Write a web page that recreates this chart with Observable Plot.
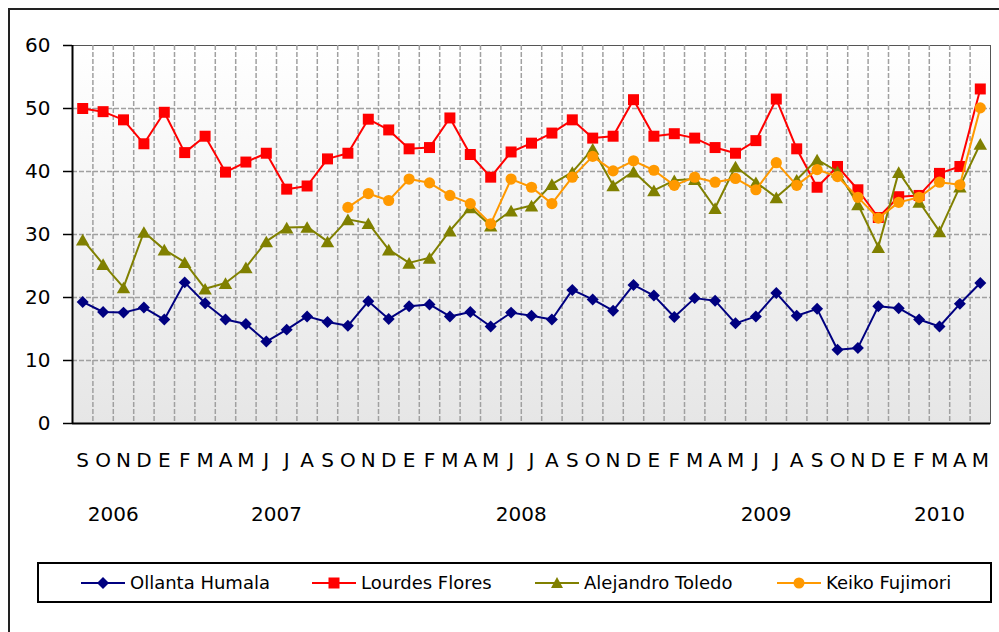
<!DOCTYPE html>
<html>
<head>
<meta charset="utf-8">
<script src="https://cdn.jsdelivr.net/npm/d3@7"></script>
<script src="https://cdn.jsdelivr.net/npm/@observablehq/plot@0.6"></script>
<style>
  html, body { margin: 0; padding: 0; background: #fff; overflow: hidden; }
  #wrap { position: relative; width: 999px; height: 632px; overflow: hidden; font-family: "DejaVu Sans", Verdana, sans-serif; }
  #outer { position: absolute; left: 8px; top: 8px; width: 1100px; height: 800px; border: 2px solid #222; box-sizing: border-box; }
  #chart { position: absolute; left: 0; top: 0; }
  #legend { position: absolute; left: 37px; top: 562px; width: 955px; height: 41px; border: 2px solid #000; box-sizing: border-box; background: #fff; }
  .item { position: absolute; top: 0; height: 37px; display: flex; align-items: center; font-size: 18px; color: #000; white-space: nowrap; }
  .item svg { margin-right: 5px; }
</style>
</head>
<body>
<div id="wrap">
  <div id="outer"></div>
  <div id="chart"></div>
  <div id="legend"></div>
</div>
<script>
const months = ["S","O","N","D","E","F","M","A","M","J","J","A","S","O","N","D","E","F","M","A","M","J","J","A","S","O","N","D","E","F","M","A","M","J","J","A","S","O","N","D","E","F","M","A","M"];
const years = ["2006","2007","2008","2009","2010"];
const yearAt = [1.5, 9.5, 21.5, 33.5, 42];
const yTicks = [0, 10, 20, 30, 40, 50, 60];

const humala = [19.3,17.7,17.6,18.4,16.5,22.4,19.1,16.5,15.8,13.0,14.9,17.0,16.1,15.5,19.4,16.6,18.6,18.9,17.0,17.7,15.4,17.6,17.1,16.5,21.2,19.7,17.9,22.0,20.3,16.9,19.9,19.5,15.9,17.0,20.7,17.1,18.2,11.7,12.0,18.6,18.3,16.5,15.4,19.0,22.3];
const flores = [50.0,49.5,48.2,44.4,49.4,43.0,45.6,39.9,41.5,42.9,37.2,37.7,42.0,42.9,48.3,46.6,43.6,43.8,48.5,42.7,39.1,43.1,44.5,46.1,48.2,45.3,45.6,51.4,45.6,46.0,45.3,43.8,42.9,44.9,51.5,43.6,37.5,40.8,37.1,32.7,36.0,36.2,39.7,40.8,53.1];
const toledo = [29.2,25.3,21.6,30.4,27.6,25.6,21.4,22.3,24.8,28.9,31.1,31.2,28.9,32.4,31.8,27.6,25.5,26.3,30.6,34.3,31.4,33.8,34.6,38.0,39.9,43.6,37.8,40.0,37.0,38.6,38.8,34.2,40.8,38.3,35.9,38.7,41.9,40.0,34.8,28.0,39.9,35.2,30.5,37.6,44.4];
const fujimori = [null,null,null,null,null,null,null,null,null,null,null,null,null,34.3,36.5,35.4,38.8,38.2,36.2,34.9,31.7,38.8,37.5,34.9,39.1,42.4,40.1,41.7,40.2,37.8,39.1,38.3,38.9,37.1,41.4,37.8,40.3,39.2,35.9,32.6,35.1,35.9,38.3,37.9,50.1];

const seriesNames = ["Ollanta Humala", "Lourdes Flores", "Alejandro Toledo", "Keiko Fujimori"];
const seriesKeys = ["humala", "flores", "toledo", "fujimori"];
const seriesColors = ["#000080", "#ff0000", "#808000", "#ff9900"];
const seriesSymbols = ["diamond2", "square", "triangle", "circle"];
const seriesR = [5.4, 6.2, 5.0, 5.6];
const seriesDy = [0, 0, 2, 0];

const rows = months.map((m, i) => ({i, m, humala: humala[i], flores: flores[i], toledo: toledo[i], fujimori: fujimori[i]}));
const yearRows = years.map((y, k) => ({year: y, at: yearAt[k]}));

const marks = [
  Plot.frame({fill: "url(#bg)", stroke: "#555", strokeWidth: 1}),
  Plot.ruleY(yTicks.filter(t => t > 0 && t < 60), {stroke: "#a0a0a0", strokeWidth: 1.5, strokeDasharray: "5,2"}),
  Plot.ruleX(d3.range(months.length - 1).map(k => k + 0.5), {stroke: "#a0a0a0", strokeWidth: 1.5, strokeDasharray: "5,2"}),
  Plot.axisY({ticks: yTicks, tickSize: 9, tickPadding: 13, fontSize: 20, label: null, stroke: "#000", strokeWidth: 1.5}),
  Plot.axisX({ticks: d3.range(months.length), tickFormat: i => months[i], tickSize: 0, tickPadding: 29, fontSize: 20, label: null}),
  Plot.ruleX([-0.5], {stroke: "#000", strokeWidth: 2}),
  Plot.ruleY([0], {stroke: "#000", strokeWidth: 2}),
  Plot.text(yearRows, {x: "at", y: () => 0, text: "year", dy: 97, lineAnchor: "bottom", fontSize: 20, fill: "#000"})
];
seriesKeys.forEach((key, s) => {
  marks.push(Plot.line(rows, {x: "i", y: key, stroke: seriesColors[s], strokeWidth: 2}));
  marks.push(Plot.dot(rows, {x: "i", y: key, symbol: seriesSymbols[s], fill: seriesColors[s], stroke: "none", r: seriesR[s], dy: seriesDy[s]}));
});

const svg = Plot.plot({
  width: 999,
  height: 540,
  marginLeft: 72,
  marginRight: 9,
  marginTop: 45,
  marginBottom: 117,
  style: {fontFamily: "DejaVu Sans, Verdana, sans-serif", fontSize: "20px", color: "#000", background: "transparent", overflow: "visible"},
  x: {type: "linear", domain: [-0.5, months.length - 0.5]},
  y: {domain: [0, 60]},
  marks
});

const defs = d3.select(svg).insert("defs", ":first-child");
const grad = defs.append("linearGradient").attr("id", "bg").attr("x1", 0).attr("y1", 0).attr("x2", 0).attr("y2", 1);
grad.append("stop").attr("offset", "0%").attr("stop-color", "#ffffff");
grad.append("stop").attr("offset", "100%").attr("stop-color", "#e6e6e6");
document.getElementById("chart").appendChild(svg);

// legend
const legend = d3.select("#legend");
const itemLeft = [42, 273, 496, 738];
seriesNames.forEach((name, s) => {
  const item = legend.append("div").attr("class", "item").style("left", itemLeft[s] + "px");
  const sv = item.append("svg").attr("width", 44).attr("height", 16);
  sv.append("line").attr("x1", 0).attr("x2", 44).attr("y1", 8).attr("y2", 8).attr("stroke", seriesColors[s]).attr("stroke-width", 2);
  const c = seriesColors[s];
  if (s === 0) sv.append("path").attr("d", "M22,2L28,8L22,14L16,8Z").attr("fill", c);
  if (s === 1) sv.append("rect").attr("x", 16.5).attr("y", 2.5).attr("width", 11).attr("height", 11).attr("fill", c);
  if (s === 2) sv.append("path").attr("d", "M22,2L28,13L16,13Z").attr("fill", c);
  if (s === 3) sv.append("circle").attr("cx", 22).attr("cy", 8).attr("r", 5.5).attr("fill", c);
  item.append("span").text(name);
});
</script>
</body>
</html>
